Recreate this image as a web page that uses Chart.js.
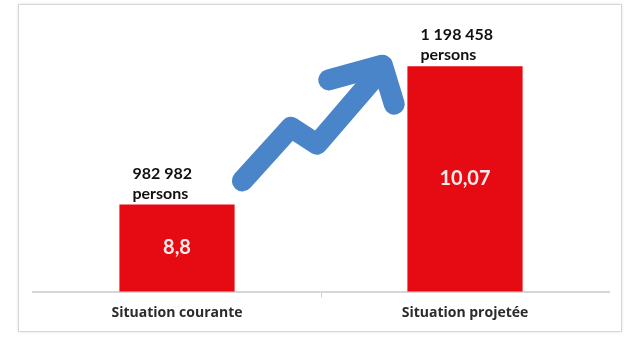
<!DOCTYPE html>
<html>
<head>
<meta charset="utf-8">
<script src="https://cdn.jsdelivr.net/npm/chart.js@4/dist/chart.umd.min.js"></script>
<style>
  html, body { margin: 0; padding: 0; background: #fff; }
  #cadre {
    position: absolute; left: 18px; top: 4px; width: 604px; height: 328px;
    box-sizing: border-box; border: 1px solid #d6d6d6;
    box-shadow: 0 0 3px rgba(0,0,0,0.12);
  }
  #graph { position: absolute; left: 0; top: 0; }
</style>
</head>
<body>
<div id="cadre"></div>
<canvas id="graph" width="635" height="338"></canvas>
<script>
// Données
const categories = ["Situation courante", "Situation projetée"];
const ratios = [8.8, 10.07];
const personnes = ["982 982", "1 198 458"];
const yMin = 8;
const yMax = 10.2;

const ROUGE = "#e60a12";
const BLEU = "#4a84c9";

// Libellés "xxx persons" au-dessus des barres + valeur dans la barre
const etiquettes = {
  id: "etiquettes",
  afterDatasetsDraw(chart) {
    const ctx = chart.ctx;
    const meta = chart.getDatasetMeta(0);
    const bas = chart.scales.y.getPixelForValue(yMin);
    meta.data.forEach((bar, i) => {
      const gauche = bar.x - bar.width / 2 + 13;
      ctx.save();
      ctx.fillStyle = "#111";
      ctx.font = "bold 16px Lato";
      ctx.textAlign = "left";
      ctx.textBaseline = "middle";
      ctx.fillText(personnes[i], gauche, bar.y - 31);
      ctx.fillText("persons", gauche, bar.y - 11);

      ctx.fillStyle = "#fdeaea";
      ctx.font = "bold 20px Lato";
      ctx.textAlign = "center";
      ctx.fillText(String(ratios[i]).replace(".", ","), bar.x, (bar.y + bas) / 2);
      ctx.restore();
    });
  }
};

// Flèche bleue entre les deux barres
const fleche = {
  id: "fleche",
  afterDatasetsDraw(chart) {
    const meta = chart.getDatasetMeta(0);
    const b1 = meta.data[0], b2 = meta.data[1];
    const x0 = b1.x + b1.width / 2, x1 = b2.x - b2.width / 2;
    const y0 = b2.y, y1 = b1.y;
    const p = (fx, fy) => [x0 + fx * (x1 - x0), y0 + fy * (y1 - y0)];
    const ctx = chart.ctx;
    ctx.save();
    ctx.strokeStyle = BLEU;
    ctx.lineWidth = 21;
    ctx.lineCap = "round";
    ctx.lineJoin = "round";
    ctx.beginPath();
    [[0.045, 0.83], [0.326, 0.442], [0.477, 0.565], [0.852, 0.02]].forEach((q, k) => {
      const [x, y] = p(q[0], q[1]);
      k ? ctx.lineTo(x, y) : ctx.moveTo(x, y);
    });
    ctx.stroke();
    ctx.beginPath();
    [[0.545, 0.1], [0.855, -0.007], [0.924, 0.275]].forEach((q, k) => {
      const [x, y] = p(q[0], q[1]);
      k ? ctx.lineTo(x, y) : ctx.moveTo(x, y);
    });
    ctx.stroke();
    ctx.restore();
  }
};

new Chart(document.getElementById("graph"), {
  type: "bar",
  data: {
    labels: categories,
    datasets: [{
      data: ratios,
      backgroundColor: ROUGE,
      barPercentage: 0.4,
      categoryPercentage: 1
    }]
  },
  options: {
    responsive: false,
    animation: false,
    layout: { padding: { top: 52, left: 33, right: 26, bottom: 6.5 } },
    plugins: {
      legend: { display: false },
      tooltip: { enabled: false }
    },
    scales: {
      y: { display: false, min: yMin, max: yMax },
      x: {
        grid: {
          offset: true,
          drawOnChartArea: false,
          tickLength: 6,
          color: (c) => c.index === 1 ? "#cfcfcf" : "rgba(0,0,0,0)"
        },
        border: { display: true, color: "#d6d6d6", width: 2 },
        ticks: {
          color: "#2b2b2b",
          padding: 7,
          font: { family: "Open Sans", weight: "bold", size: 14 }
        },
        afterFit(scale) { scale.height = 40; }
      }
    }
  },
  plugins: [fleche, etiquettes]
});
</script>
</body>
</html>
